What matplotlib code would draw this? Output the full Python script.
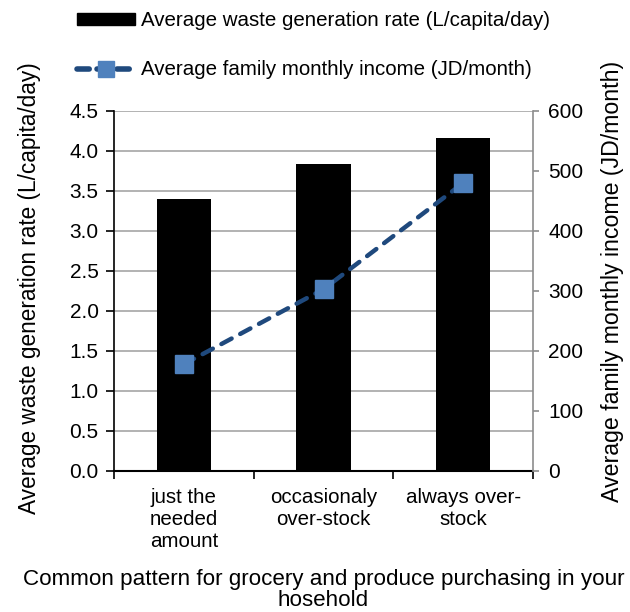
import matplotlib
matplotlib.use("Agg")
import matplotlib.pyplot as plt
import numpy as np
from matplotlib.lines import Line2D
from matplotlib.patches import Patch

plt.rcParams['font.family'] = ['Liberation Sans', 'DejaVu Sans']

categories = ["just the\nneeded\namount", "occasionaly\nover-stock", "always over-\nstock"]
waste_rate = [3.40, 3.84, 4.16]
income = [178, 303, 480]

bar_label = "Average waste generation rate (L/capita/day)"
line_label = "Average family monthly income (JD/month)"
x_title = "Common pattern for grocery and produce purchasing in your\nhosehold"

W, H = 630, 612
fig = plt.figure(figsize=(W / 100, H / 100), dpi=100)
ax = fig.add_axes([114 / W, 1 - 471 / H, 419 / W, 360 / H])
ax2 = ax.twinx()

x = np.arange(len(categories))
ax.bar(x, waste_rate, width=0.39, color="black", zorder=2)
ax.set_xlim(-0.5, 2.5)
ax.set_ylim(0, 4.5)
yt = np.arange(0, 4.51, 0.5)
ax.set_yticks(yt)
ax.set_yticklabels([f"{v:.1f}" for v in yt])
ax.yaxis.grid(True, color="#a6a6a6", linewidth=1.2, zorder=0)
ax.set_axisbelow(True)

ax.set_xticks(x)
ax.set_xticklabels(categories, fontsize=14.8, linespacing=1.2)
ax.set_xticks([-0.5, 0.5, 1.5, 2.5], minor=True)
ax.tick_params(axis="x", which="major", length=0, pad=12)
ax.tick_params(axis="x", which="minor", length=6, width=1.2, color="black", direction="out")
ax.tick_params(axis="y", length=6, width=1.2, direction="out", labelsize=15, pad=5)

ax2.plot(x, income, linestyle=(0, (2.6, 2.2)), color="#1f497d", linewidth=3.2,
         dash_capstyle="round",
         marker="s", markersize=12.5, markerfacecolor="#4f81bd",
         markeredgecolor="#4f81bd", zorder=3)
ax2.set_ylim(0, 600)
ax2.set_yticks(np.arange(0, 601, 100))
ax2.tick_params(axis="y", length=4, width=1.2, direction="out", color="#8c8c8c",
                labelsize=15, pad=7)

for a in (ax, ax2):
    a.spines["top"].set_visible(False)
ax.spines["left"].set_linewidth(1.2)
ax.spines["bottom"].set_linewidth(1.5)
ax2.spines["left"].set_visible(False)
ax2.spines["bottom"].set_visible(False)
ax2.spines["right"].set_color("#8c8c8c")
ax2.spines["right"].set_linewidth(1.2)
ax.spines["right"].set_visible(False)

fig.text(30 / W, 1 - 288 / H, bar_label, rotation=90, ha="center", va="center", fontsize=16.3)
fig.text(612 / W, 1 - 281 / H, line_label, rotation=90, ha="center", va="center", fontsize=16.7)
fig.text(323.5 / W, 1 - 590 / H, x_title, ha="center", va="center", fontsize=16.1,
         linespacing=1.02)

handles = [
    Patch(facecolor="black", edgecolor="black"),
    Line2D([0], [0], linestyle=(0, (2.2, 1.4)), color="#1f497d", linewidth=4,
           dash_capstyle="round",
           marker="s", markersize=11, markerfacecolor="#4f81bd", markeredgecolor="#4f81bd"),
]
fig.legend(handles, [bar_label, line_label], loc="upper left",
           bbox_to_anchor=(77 / W, 1 - 11 / H), frameon=False, fontsize=14.8,
           handlelength=2.8, handleheight=0.5, labelspacing=1.48, handletextpad=0.3,
           borderpad=0, borderaxespad=0)

fig.savefig("out.png", dpi=100)
